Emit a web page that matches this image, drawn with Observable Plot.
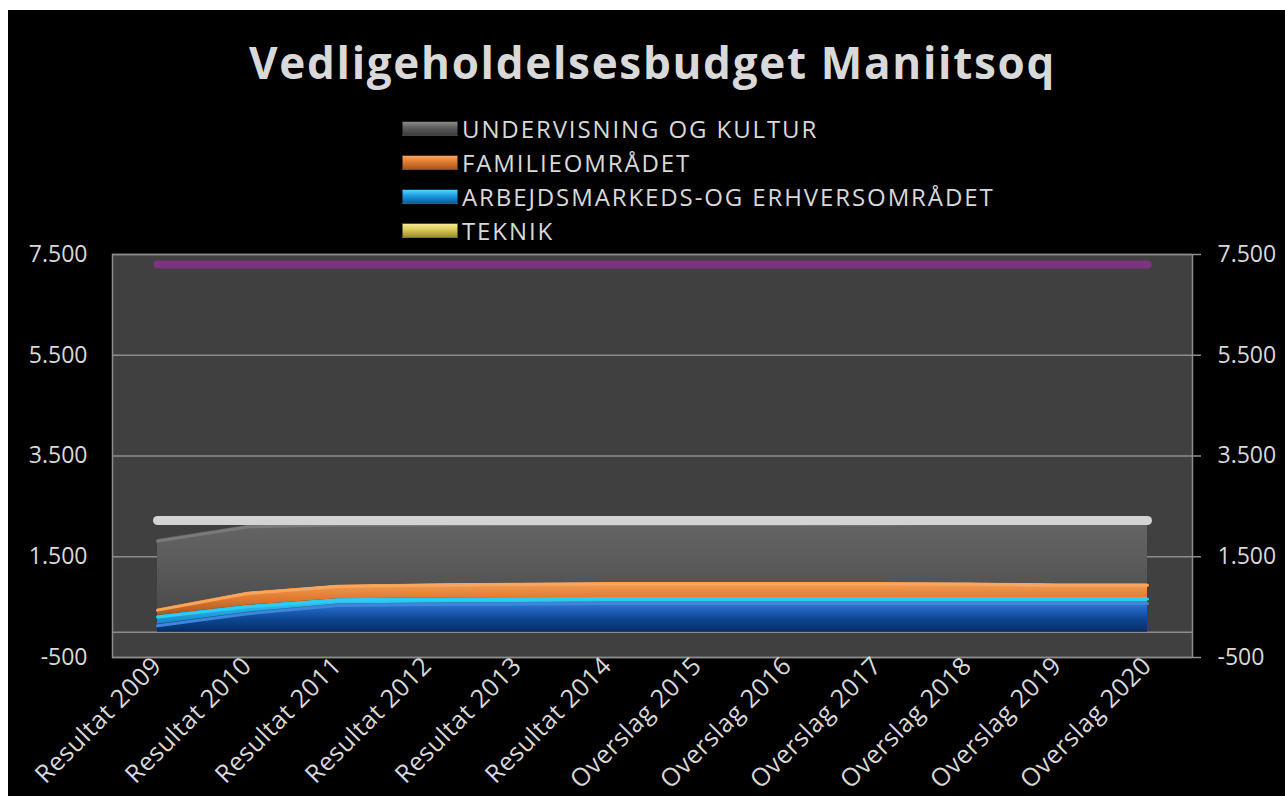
<!DOCTYPE html>
<html><head><meta charset="utf-8">
<script src="https://cdn.jsdelivr.net/npm/d3@7"></script>
<script src="https://cdn.jsdelivr.net/npm/@observablehq/plot@0.6"></script>
<style>
html,body{margin:0;padding:0;background:#fff;}
#wrap{position:relative;width:1285px;height:796px;overflow:hidden;background:#fff;}
#bg{position:absolute;left:8px;top:10px;right:0;bottom:0;background:#000;}
#title{position:absolute;left:10px;width:1285px;top:37px;line-height:50px;text-align:center;font-family:'Open Sans';font-weight:bold;font-size:44px;color:#d9d9d9;letter-spacing:1.7px;}
#legend{position:absolute;left:402px;top:111px;font-family:'Open Sans';font-size:24px;color:#d9d9d9;letter-spacing:1.9px;}
.row{display:flex;align-items:center;height:34px;}
.sw{width:56px;height:15px;margin-right:4px;box-sizing:border-box;}
#chart{position:absolute;left:0;top:215px;}
</style></head><body>
<div id="wrap"><div id="bg"></div><div id="title">Vedligeholdelsesbudget Maniitsoq</div><div id="legend"></div><div id="chart"></div></div>
<script>
const categories = ["Resultat 2009","Resultat 2010","Resultat 2011","Resultat 2012","Resultat 2013","Resultat 2014",
  "Overslag 2015","Overslag 2016","Overslag 2017","Overslag 2018","Overslag 2019","Overslag 2020"];

// stacked area series, bottom to top
const bundBlaa      = [160, 400, 560, 580, 590, 600, 600, 600, 600, 600, 600, 600];
const arbejdsmarked = [175, 135, 105, 100,  95,  90,  90,  90,  90,  90,  90,  90];
const familie       = [135, 265, 275, 285, 295, 300, 300, 300, 300, 295, 275, 275];
const undervisning  = [1370,1320,1220,1200,1190,1180,1180,1180,1185,1215,1300,1320];

// line series
const linjeLilla = [7300,7300,7300,7300,7300,7300,7300,7300,7300,7300,7300,7300];
const linjeHvid  = [2220,2220,2220,2220,2220,2220,2220,2220,2220,2220,2220,2220];

// legend
const legendNames = ["UNDERVISNING OG KULTUR","FAMILIEOMRÅDET","ARBEJDSMARKEDS-OG ERHVERSOMRÅDET","TEKNIK"];
const legendSwatches = [
  "linear-gradient(#8a8a8a,#5c5c5c 45%,#3e3e3e)",
  "linear-gradient(#f7a660,#e07b30 45%,#a8561f)",
  "linear-gradient(#4fd4ff,#1e9be0 45%,#0b5f9e)",
  "linear-gradient(#f6ea90,#d9c85a 45%,#9e8e2c)"
];

const yTicks = [-500, 1500, 3500, 5500, 7500];

const areaSeries = [
  {name: "bund", values: bundBlaa, fill: "url(#gBlue)", hi: "#3d86dc"},
  {name: "arbejdsmarked", values: arbejdsmarked, fill: "url(#gCyan)", hi: "#2ccdf5"},
  {name: "familie", values: familie, fill: "url(#gOrange)", hi: "#f8a55e"},
  {name: "undervisning", values: undervisning, fill: "url(#gGray)", hi: "#7a7a7a"}
];

// legend build
const leg = document.getElementById("legend");
legendNames.forEach((n, i) => {
  const r = document.createElement("div"); r.className = "row";
  const s = document.createElement("div"); s.className = "sw"; s.style.background = legendSwatches[i];
  s.style.border = "1px solid rgba(0,0,0,0.5)";
  const t = document.createElement("span"); t.textContent = n;
  r.appendChild(s); r.appendChild(t); leg.appendChild(r);
});

const rows = [];
areaSeries.forEach(s => s.values.forEach((v, i) => rows.push({cat: categories[i], series: s.name, v, fill: s.fill, hi: s.hi})));
const lineRows = [];
categories.forEach((c, i) => {
  lineRows.push({cat: c, series: "lilla", v: linjeLilla[i]});
  lineRows.push({cat: c, series: "hvid", v: linjeHvid[i]});
});

const loc = d3.formatLocale({decimal: ",", thousands: ".", grouping: [3], currency: ["", ""], minus: "-"});
const fmt = loc.format(",");

const plot = Plot.plot({
  width: 1285,
  height: 581,
  marginLeft: 112,
  marginRight: 93,
  marginTop: 39,
  marginBottom: 139,
  style: {background: "transparent", color: "#d9d9d9", fontFamily: "Open Sans", fontSize: "22px", overflow: "visible"},
  x: {type: "point", domain: categories, padding: 0.5, label: null},
  y: {domain: [-500, 7500], label: null},
  color: {type: "identity"},
  marks: [
    Plot.frame({fill: "#404040", stroke: "#8c8c8c", strokeWidth: 1.5}),
    Plot.gridY(yTicks, {stroke: "#8c8c8c", strokeOpacity: 1, strokeWidth: 1.5}),
    Plot.ruleY([0], {stroke: "#8c8c8c", strokeWidth: 1.5}),
    Plot.areaY(rows, Plot.stackY({x: "cat", y: "v", z: "series", fill: "fill"})),
    Plot.lineY(rows, Plot.stackY2({x: "cat", y: "v", z: "series", stroke: "hi", strokeWidth: 3, dy: 1.5})),
    Plot.lineY(lineRows, {x: "cat", y: "v", z: "series", stroke: d => d.series === "lilla" ? "#7e327f" : "#d3d3d3",
      strokeWidth: d => d.series === "lilla" ? 8 : 9, strokeLinecap: "round"}),
    Plot.axisY({anchor: "left", ticks: yTicks, tickFormat: fmt, tickSize: 0, tickPadding: 25, fontSize: 23, label: null}),
    Plot.axisY({anchor: "right", ticks: yTicks, tickFormat: fmt, tickSize: 8, tickPadding: 17, fontSize: 23, stroke: "#8c8c8c", strokeWidth: 1.5, label: null}),
    Plot.axisX({tickRotate: -45, tickSize: 0, tickPadding: 4, fontSize: 25, label: null})
  ]
});

// gradient definitions for the 3D-like band fills
const defs = d3.create("svg:defs");
function grad(id, stops) {
  const g = defs.append("linearGradient").attr("id", id).attr("x1", 0).attr("x2", 0).attr("y1", 0).attr("y2", 1);
  stops.forEach(([o, c]) => g.append("stop").attr("offset", o).attr("stop-color", c));
}
grad("gBlue", [[0, "#3a7fd6"], [0.3, "#1c5fb8"], [0.6, "#0d4590"], [1, "#062d66"]]);
grad("gCyan", [[0, "#33d2f7"], [1, "#1685c8"]]);
grad("gOrange", [[0, "#f4a058"], [0.5, "#e07a30"], [1, "#a9561f"]]);
grad("gGray", [[0, "#666666"], [0.5, "#5b5b5b"], [1, "#4c4c4c"]]);
plot.insertBefore(defs.node(), plot.firstChild);
d3.select(plot).selectAll("[aria-label='x-axis tick label'] text").style("letter-spacing", "0.6px");

document.getElementById("chart").appendChild(plot);
</script>
</body></html>
